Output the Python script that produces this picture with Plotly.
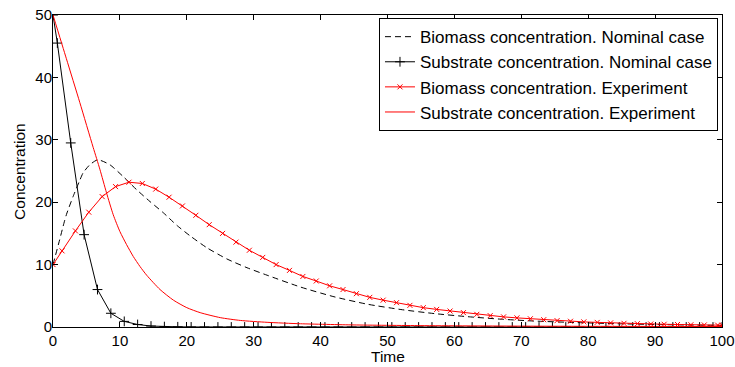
import plotly.graph_objects as go

# ---- data ----
t_sub_nom = [0, 0.65, 2.65, 4.65, 6.65, 8.65, 10.65, 12.65, 14.65, 16.65, 18.65,
             20.65, 22.65, 24.65, 26.65, 28.65, 30.65, 32.65, 34.65, 36.65, 38.65,
             40.65, 42.65, 44.65, 46.65, 48.65, 50.65, 52.65, 54.65, 56.65, 58.65,
             60.65, 62.65, 64.65, 66.65, 68.65, 70.65, 72.65, 74.65, 76.65, 78.65,
             80.65, 82.65, 84.65, 86.65, 88.65, 90.65, 92.65, 94.65, 96.65, 98.65, 100]
sub_nom = [50, 45.5, 29.5, 14.8, 6.0, 2.2, 0.9, 0.4, 0.15, 0.06, 0.03,
           0.01, 0, 0, 0, 0, 0, 0, 0, 0, 0,
           0, 0, 0, 0, 0, 0, 0, 0, 0, 0,
           0, 0, 0, 0, 0, 0, 0, 0, 0, 0,
           0, 0, 0, 0, 0, 0, 0, 0, 0, 0, 0]

t_bio_exp = [0, 1.35, 3.35, 5.35, 7.35, 9.35, 11.35, 13.35, 15.35, 17.35, 19.35,
             21.35, 23.35, 25.35, 27.35, 29.35, 31.35, 33.35, 35.35, 37.35, 39.35,
             41.35, 43.35, 45.35, 47.35, 49.35, 51.35, 53.35, 55.35, 57.35, 59.35,
             61.35, 63.35, 65.35, 67.35, 69.35, 71.35, 73.35, 75.35, 77.35, 79.35,
             81.35, 83.35, 85.35, 87.35, 89.35, 91.35, 93.35, 95.35, 97.35, 99.35, 100]
bio_exp = [10, 12.2, 15.4, 18.4, 20.9, 22.5, 23.2, 23.0, 22.1, 20.8, 19.4,
           17.9, 16.4, 15.0, 13.6, 12.3, 11.15, 10.0, 9.07, 8.1, 7.37,
           6.6, 6.0, 5.34, 4.75, 4.3, 3.9, 3.47, 3.1, 2.82, 2.56,
           2.3, 2.03, 1.82, 1.62, 1.46, 1.32, 1.17, 1.02, 0.92, 0.82,
           0.74, 0.66, 0.59, 0.53, 0.48, 0.44, 0.40, 0.36, 0.33, 0.30, 0.29]

t_bio_nom = [0, 1, 1.5, 2, 3, 4, 4.5, 5.5, 6.7, 8.5, 10.5, 12.5, 14.5, 16.5, 18.5,
             20.5, 23, 26, 29, 32, 37, 42, 47, 52, 57, 62, 67, 72, 78, 84, 90, 95, 100]
bio_nom = [10, 14.0, 16.1, 18.0, 20.9, 23.5, 24.7, 26.0, 26.8, 26.0, 24.1, 22.0, 20.1, 18.3, 16.3,
           14.6, 12.7, 10.9, 9.5, 8.3, 6.4, 4.85, 3.65, 2.8, 2.15, 1.65, 1.25, 0.95, 0.72, 0.53, 0.4, 0.32, 0.25]

t_sub_exp = [0, 2, 4, 6, 7, 8, 9, 10, 11, 12, 13, 14, 16, 18, 20, 22, 25, 28, 32, 37,
             45, 55, 70, 85, 100]
sub_exp = [50, 43, 36, 28.8, 25.3, 21.5, 18.0, 15.3, 13.2, 11.3, 9.7, 8.3, 6.0, 4.3, 3.1, 2.3,
           1.5, 1.05, 0.75, 0.52, 0.33, 0.22, 0.14, 0.10, 0.08]

x_ticks = [0, 10, 20, 30, 40, 50, 60, 70, 80, 90, 100]
y_ticks = [0, 10, 20, 30, 40, 50]

names = ["Biomass concentration. Nominal case",
         "Substrate concentration. Nominal case",
         "Biomass concentration. Experiment",
         "Substrate concentration. Experiment"]
x_title = "Time"
y_title = "Concentration"

FONT = "Liberation Sans, Arial, Helvetica, sans-serif"

fig = go.Figure()
fig.add_trace(go.Scatter(x=t_bio_nom, y=bio_nom, mode="lines", name=names[0],
                         line=dict(color="black", width=1, dash="6px,4px", shape="spline", smoothing=0.6)))
fig.add_trace(go.Scatter(x=t_sub_nom, y=sub_nom, mode="lines+markers", name=names[1],
                         line=dict(color="black", width=1),
                         marker=dict(symbol="cross-thin-open", size=7, color="black",
                                     line=dict(color="black", width=1))))
fig.add_trace(go.Scatter(x=t_bio_exp, y=bio_exp, mode="lines+markers", name=names[2],
                         line=dict(color="red", width=1),
                         marker=dict(symbol="x-thin-open", size=5, color="red",
                                     line=dict(color="red", width=1))))
fig.add_trace(go.Scatter(x=t_sub_exp, y=sub_exp, mode="lines", name=names[3],
                         line=dict(color="red", width=1, shape="spline", smoothing=0.6)))

axis_common = dict(showline=True, linecolor="black", linewidth=1, mirror="ticks",
                   ticks="inside", ticklen=5, tickcolor="black", tickwidth=1,
                   showgrid=False, zeroline=False, automargin=False,
                   ticklabeloverflow="allow",
                   tickfont=dict(family=FONT, size=15, color="black"))

fig.update_xaxes(range=[0, 100], tickvals=x_ticks, ticktext=[str(v) for v in x_ticks],
                 ticklabelstandoff=0, **axis_common)
fig.update_yaxes(range=[0, 50], tickvals=y_ticks, ticktext=[str(v) for v in y_ticks],
                 ticklabelstandoff=-3, **axis_common)

fig.update_layout(
    width=735, height=367,
    margin=dict(l=53, r=13, t=15, b=40),
    paper_bgcolor="white", plot_bgcolor="white",
    font=dict(family=FONT, color="black"),
    showlegend=True,
    legend=dict(x=0.994, y=0.99, xanchor="right", yanchor="top",
                bgcolor="white", bordercolor="black", borderwidth=1,
                font=dict(family=FONT, size=17, color="black"),
                itemwidth=30, tracegroupgap=0),
    annotations=[
        dict(text=x_title, xref="paper", yref="paper", x=0.5, y=-0.093,
             xanchor="center", yanchor="middle", showarrow=False,
             font=dict(family=FONT, size=15.5, color="black")),
        dict(text=y_title, xref="paper", yref="paper", x=-0.051, y=0.5,
             xanchor="center", yanchor="middle", textangle=-90, showarrow=False,
             font=dict(family=FONT, size=15.5, color="black")),
    ],
)

# remove the default 8px page margin so the figure fills the window exactly
fig.write_html("out.html", config={"displayModeBar": False},
               post_script="document.body.style.margin='0';")
